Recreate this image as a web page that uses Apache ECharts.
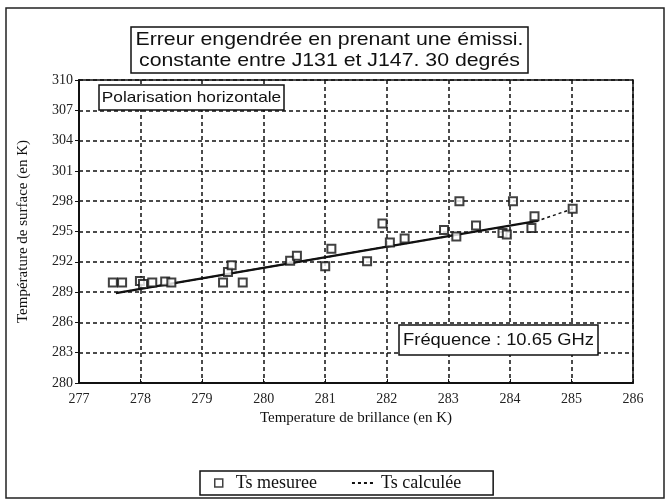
<!DOCTYPE html>
<html><head><meta charset="utf-8">
<script src="https://cdn.jsdelivr.net/npm/echarts@6/dist/echarts.min.js"></script>
<style>html,body{margin:0;padding:0;background:#fff}#c{width:670px;height:503px}</style>
</head><body><div id="c"></div>
<script>
var xTicks = [277, 278, 279, 280, 281, 282, 283, 284, 285, 286];
var yTicks = [280, 283, 286, 289, 292, 295, 298, 301, 304, 307, 310];
var measX = [277.55, 277.7, 277.99, 278.04, 278.19, 278.4, 278.5, 279.34, 279.42, 279.48, 279.66, 280.43, 280.54, 281.0, 281.1, 281.68, 281.93, 282.05, 282.29, 282.93, 283.13, 283.18, 283.45, 283.88, 283.95, 284.05, 284.35, 284.4, 285.02];
var measY = [289.95, 289.95, 290.1, 289.8, 289.95, 290.05, 289.95, 289.95, 291.0, 291.65, 289.95, 292.1, 292.6, 291.55, 293.3, 292.05, 295.8, 293.9, 294.3, 295.15, 294.5, 298.0, 295.6, 294.85, 294.7, 298.0, 295.35, 296.5, 297.25];
var calcX = [277.6, 284.45, 285.02];
var calcY = [288.9, 296.05, 297.25];
var fitX = [277.6, 284.45];
var fitY = [288.9, 296.05];

function pairs(a, b) { return a.map(function (v, i) { return [v, b[i]]; }); }

var serif = '"Liberation Serif", "DejaVu Serif", serif';
var sans = '"Liberation Sans", Arial, sans-serif';
var chart = echarts.init(document.getElementById('c'), null, { renderer: 'canvas' });
chart.setOption({
  animation: false,
  backgroundColor: '#fff',
  grid: { left: 79, right: 37, top: 80, bottom: 120, show: true, borderColor: '#111', borderWidth: 1.5 },
  xAxis: {
    type: 'value', min: 277, max: 286, interval: 1,
    name: 'Temperature de brillance (en K)', nameLocation: 'middle', nameGap: 21,
    nameTextStyle: { fontFamily: serif, fontSize: 15, color: '#111' },
    axisLine: { show: true, lineStyle: { color: '#111', width: 2 } },
    axisTick: { show: true, inside: true, length: 4, lineStyle: { color: '#111' } },
    axisLabel: { fontFamily: serif, fontSize: 14, color: '#222', margin: 9 },
    splitLine: { show: true, lineStyle: { color: '#111', type: [4, 3], width: 1.5 } }
  },
  yAxis: {
    type: 'value', min: 280, max: 310, interval: 3,
    name: 'Température de surface (en K)', nameLocation: 'middle', nameGap: 48, nameRotate: 90,
    nameTextStyle: { fontFamily: serif, fontSize: 15, color: '#111' },
    axisLine: { show: true, lineStyle: { color: '#111', width: 2 } },
    axisTick: { show: true, length: 4, lineStyle: { color: '#111' } },
    axisLabel: { fontFamily: serif, fontSize: 14, color: '#222', margin: 6 },
    splitLine: { show: true, lineStyle: { color: '#111', type: [4, 3], width: 1.5 } }
  },
  legend: {
    data: [
      { name: 'Ts mesuree', icon: 'path://M0,0L10,0L10,10L0,10Z', itemStyle: { color: '#fff', borderColor: '#111', borderWidth: 1.5 } },
      { name: 'Ts calculée', itemStyle: { opacity: 0 } }
    ],
    left: 200, top: 471, orient: 'horizontal', symbolKeepAspect: true,
    itemWidth: 24, itemHeight: 8, itemGap: 34,
    borderColor: '#111', borderWidth: 1.5, borderRadius: 0, padding: [3, 32, 3, 14],
    textStyle: { fontFamily: serif, fontSize: 18, color: '#111' }
  },
  graphic: [
    { type: 'rect', silent: true, shape: { x: 6, y: 8, width: 658, height: 490 }, style: { fill: 'none', stroke: '#222', lineWidth: 1.5 } },
    { type: 'rect', silent: true, z: 50, shape: { x: 131, y: 27, width: 397, height: 46 }, style: { fill: '#fff', stroke: '#111', lineWidth: 1.5 } },
    { type: 'text', silent: true, z: 51, x: 329.5, y: 50, scaleX: 1.12, style: { x: 0, y: 0, text: 'Erreur engendrée en prenant une émissi.\nconstante entre J131 et J147. 30 degrés', align: 'center', verticalAlign: 'middle', textAlign: 'center', textVerticalAlign: 'middle', font: '19px ' + sans, fill: '#111', lineHeight: 21 } },
    { type: 'rect', silent: true, z: 50, shape: { x: 99, y: 85, width: 185, height: 25 }, style: { fill: '#fff', stroke: '#111', lineWidth: 1.5 } },
    { type: 'text', silent: true, z: 51, x: 191.5, y: 97.5, scaleX: 1.15, style: { x: 0, y: 0, text: 'Polarisation horizontale', align: 'center', verticalAlign: 'middle', textAlign: 'center', textVerticalAlign: 'middle', font: '15px ' + sans, fill: '#111' } },
    { type: 'rect', silent: true, z: 50, shape: { x: 399, y: 325, width: 199, height: 30 }, style: { fill: '#fff', stroke: '#111', lineWidth: 1.5 } },
    { type: 'text', silent: true, z: 51, x: 498.5, y: 340, scaleX: 1.08, style: { x: 0, y: 0, text: 'Fréquence : 10.65 GHz', align: 'center', verticalAlign: 'middle', textAlign: 'center', textVerticalAlign: 'middle', font: '17px ' + sans, fill: '#111' } }
  ],
  series: [
    { name: 'Ts calculée', type: 'line', data: pairs(calcX, calcY), symbol: 'none', z: 3,
      itemStyle: { color: '#111' },
      lineStyle: { color: '#111', width: 1.5, type: [3, 3] } },
    { name: 'fit', type: 'line', data: pairs(fitX, fitY), symbol: 'none', z: 4,
      itemStyle: { color: '#111' },
      lineStyle: { color: '#111', width: 2.2 } },
    { name: 'Ts mesuree', type: 'scatter', data: pairs(measX, measY), symbol: 'emptyRect', symbolSize: 8, z: 5,
      itemStyle: { color: '#111', borderColor: '#111', borderWidth: 1.5 } }
  ]
});
</script></body></html>
